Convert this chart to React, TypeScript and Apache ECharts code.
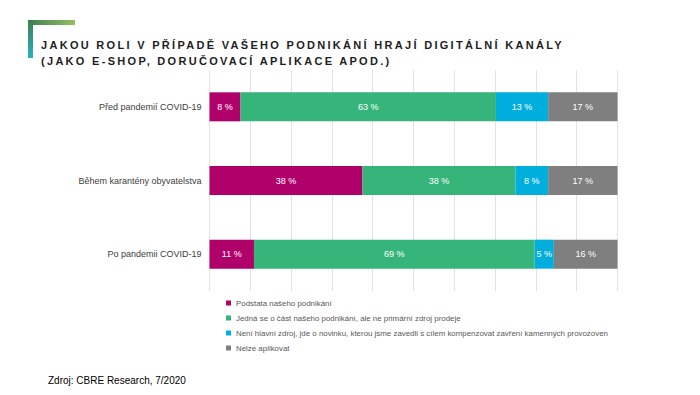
import React, { useEffect, useRef } from "react";
import * as echarts from "echarts";

const categories = ["Před pandemií COVID-19", "Během karantény obyvatelstva", "Po pandemii COVID-19"];
const seriesNames = [
  "Podstata našeho podnikání",
  "Jedná se o část našeho podnikání, ale ne primární zdroj prodeje",
  "Není hlavní zdroj, jde o novinku, kterou jsme zavedli s cílem kompenzovat zavření kamenných provozoven",
  "Nelze aplikovat",
];
const core = [7.6, 37.5, 10.9];
const partial = [62.6, 37.5, 68.8];
const novelty = [12.8, 8, 4.7];
const notApplicable = [17, 17, 15.6];
const colors = ["#B0006A", "#35B57A", "#00AEDD", "#7F7F7F"];
const titleLines = [
  "JAKOU ROLI V PŘÍPADĚ VAŠEHO PODNIKÁNÍ HRAJÍ DIGITÁLNÍ KANÁLY",
  "(JAKO E-SHOP, DORUČOVACÍ APLIKACE APOD.)",
];

export default function App() {
  const ref = useRef<HTMLDivElement>(null);
  useEffect(() => {
    if (!ref.current) return;
    const chart = echarts.init(ref.current, undefined, { renderer: "svg" });
    const values = [core, partial, novelty, notApplicable];
    chart.setOption({
      animation: false,
      backgroundColor: "#ffffff",
      textStyle: { fontFamily: "Liberation Sans, Arial, sans-serif" },
      graphic: [
        {
          type: "rect",
          shape: { x: 28, y: 20, width: 47, height: 5 },
          style: {
            fill: new echarts.graphic.LinearGradient(0, 0, 1, 0, [
              { offset: 0, color: "#3d7f4f" },
              { offset: 1, color: "#95bf63" },
            ]),
          },
        },
        {
          type: "rect",
          shape: { x: 28, y: 20, width: 5, height: 38 },
          style: {
            fill: new echarts.graphic.LinearGradient(0, 0, 0, 1, [
              { offset: 0, color: "#3d7f4f" },
              { offset: 1, color: "#2ab3c0" },
            ]),
          },
        },
        ...titleLines.map((t, i) => ({
          type: "text",
          x: 41,
          y: 39 + i * 16,
          style: {
            text: t,
            fontFamily: "Liberation Sans, Arial, sans-serif",
            fontSize: 11,
            fontWeight: "bold",
            fill: "#1e1e1e",
          },
        })),
        {
          type: "text",
          x: 48,
          y: 375,
          style: {
            text: "Zdroj: CBRE Research, 7/2020",
            fontFamily: "Liberation Sans, Arial, sans-serif",
            fontSize: 10,
            fill: "#000000",
          },
        },
      ],
      legend: {
        orient: "vertical",
        left: 221,
        top: 294,
        itemWidth: 5,
        itemHeight: 5,
        itemGap: 7,
        icon: "rect",
        textStyle: { fontSize: 7.9, color: "#595959" },
        data: seriesNames,
      },
      grid: { left: 209.5, right: 82.5, top: 70, bottom: 104 },
      xAxis: {
        type: "value",
        min: 0,
        max: 100,
        interval: 10,
        axisLabel: { show: false },
        axisLine: { show: false },
        axisTick: { show: false },
        splitLine: { lineStyle: { color: "#e3e3e3", width: 1 } },
      },
      yAxis: {
        type: "category",
        inverse: true,
        data: categories,
        axisLine: { show: false },
        axisTick: { show: false },
        axisLabel: { fontSize: 9, color: "#404040", margin: 8 },
      },
      series: seriesNames.map((name, i) => ({
        name,
        type: "bar",
        stack: "total",
        barWidth: 29,
        data: values[i],
        itemStyle: { color: colors[i] },
        label: {
          show: true,
          position: "inside",
          color: "#ffffff",
          fontSize: 9,
          formatter: (p: any) => `${Math.round(p.value)} %`,
        },
      })),
    });
    const texts = ref.current.querySelectorAll("text");
    texts.forEach((el) => {
      const c = el.textContent || "";
      if (titleLines.includes(c)) {
        (el as SVGTextElement).style.letterSpacing = "2.3px";
      }
    });
    return () => chart.dispose();
  }, []);
  return <div ref={ref} style={{ position: "fixed", left: 0, top: 0, width: 700, height: 395 }} />;
}
